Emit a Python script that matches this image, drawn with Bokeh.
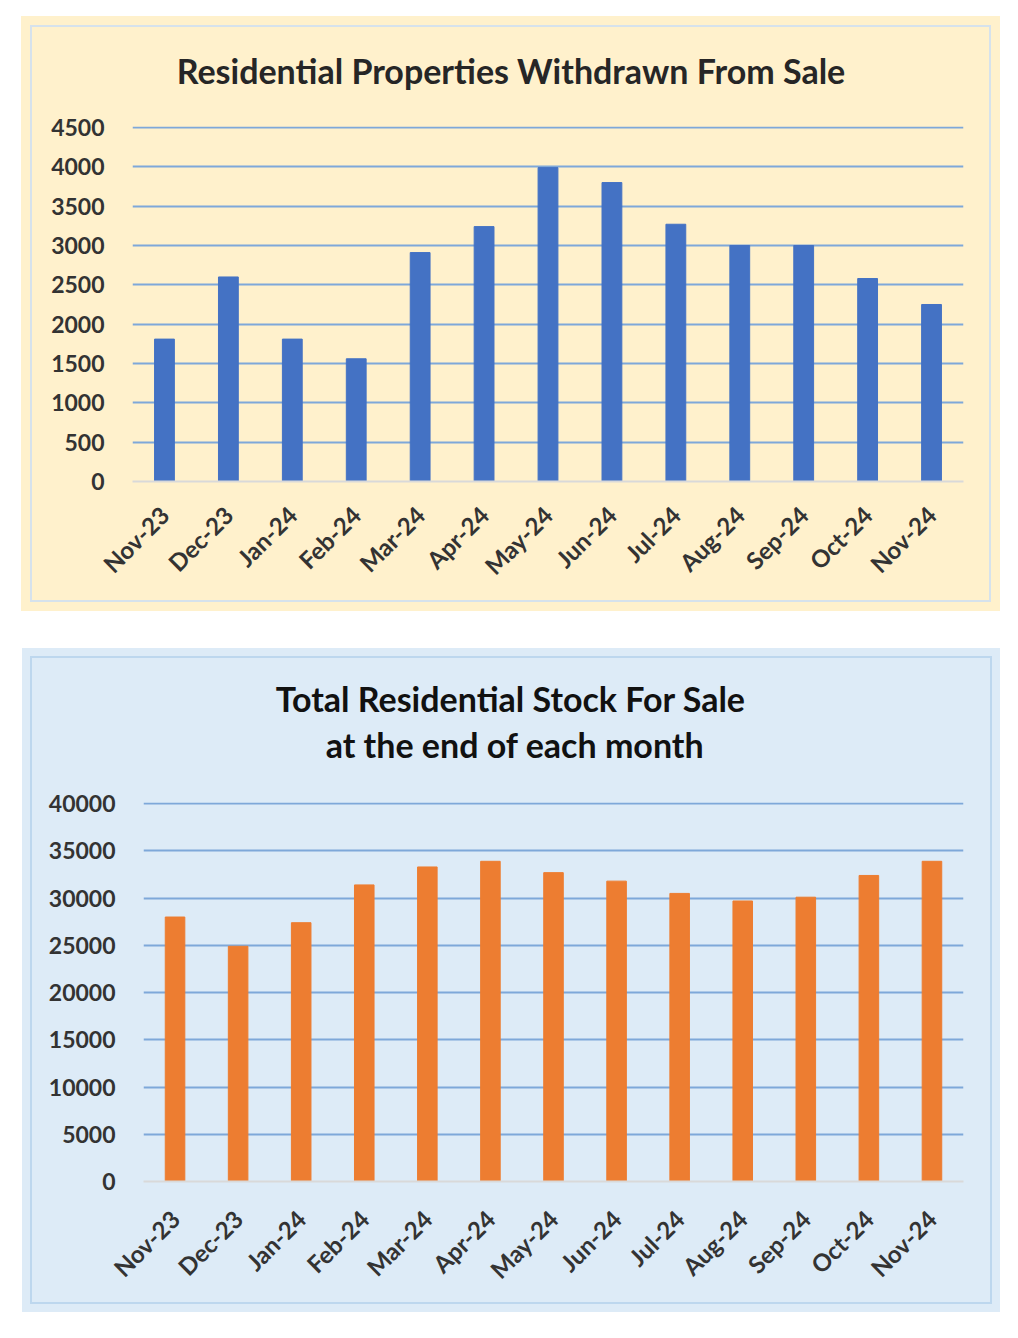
from math import pi
from bokeh.plotting import figure
from bokeh.models import FixedTicker, Spacer, Range1d
from bokeh.layouts import column, row
from bokeh.core.properties import value
from bokeh.embed import file_html
from bokeh.resources import INLINE

months = ["Nov-23", "Dec-23", "Jan-24", "Feb-24", "Mar-24", "Apr-24", "May-24",
          "Jun-24", "Jul-24", "Aug-24", "Sep-24", "Oct-24", "Nov-24"]
withdrawn = [1810, 2600, 1810, 1560, 2910, 3240, 3990, 3800, 3270, 3000, 3000, 2580, 2250]
stock = [28000, 24900, 27400, 31400, 33300, 33900, 32700, 31800, 30500, 29700, 30100, 32400, 33900]
withdrawn_ticks = [0, 500, 1000, 1500, 2000, 2500, 3000, 3500, 4000, 4500]
stock_ticks = [0, 5000, 10000, 15000, 20000, 25000, 30000, 35000, 40000]
top_title = ["Residential Properties Withdrawn From Sale"]
bottom_title = ["Total Residential Stock For Sale", "at the end of each month"]

FONT = "Lato"


def title_fig(lines, w, h, bg, color, cxs, cys):
    t = figure(width=w, height=h, x_range=Range1d(0, w), y_range=Range1d(h, 0),
               output_backend="svg", toolbar_location=None,
               x_axis_location=None, y_axis_location=None,
               background_fill_color=bg, border_fill_color=bg,
               outline_line_color=None, min_border=0)
    t.grid.visible = False
    t.text(x=cxs, y=cys, text=lines, text_align="center",
           text_baseline="middle", text_font=value(FONT), text_font_size="34px",
           text_font_style="bold", text_color=color)
    return t


def chart_fig(values, ticks, bar_color, bg, w, h, left, right, top, bottom, xstand):
    step = ticks[1] - ticks[0]
    p = figure(x_range=months, y_range=(ticks[0], ticks[-1] + step / 40),
               width=w, height=h,
               output_backend="svg", toolbar_location=None,
               background_fill_color=bg, border_fill_color=bg,
               outline_line_color=None,
               min_border_left=left, min_border_right=right,
               min_border_top=top, min_border_bottom=bottom)
    p.vbar(x=months, top=values, width=0.31, color=bar_color, line_color=bar_color)

    p.yaxis.ticker = FixedTicker(ticks=ticks)
    p.ygrid.ticker = FixedTicker(ticks=ticks[1:])
    p.ygrid.grid_line_color = "#7EA8D9"
    p.ygrid.grid_line_width = 2
    p.xgrid.grid_line_color = None

    p.yaxis.axis_line_color = None
    p.yaxis.major_tick_line_color = None
    p.yaxis.minor_tick_line_color = None
    p.yaxis.major_tick_out = 0
    p.yaxis.major_label_standoff = 28
    p.yaxis.major_label_text_font = FONT
    p.yaxis.major_label_text_font_style = "bold"
    p.yaxis.major_label_text_font_size = "23px"
    p.yaxis.major_label_text_color = "#333333"

    p.xaxis.axis_line_color = "#D9D9D9"
    p.xaxis.axis_line_width = 2
    p.xaxis.major_tick_line_color = None
    p.xaxis.major_tick_out = 0
    p.xaxis.major_label_standoff = xstand
    p.xaxis.major_label_orientation = pi / 4
    p.xaxis.major_label_text_font = FONT
    p.xaxis.major_label_text_font_style = "bold"
    p.xaxis.major_label_text_font_size = "24px"
    p.xaxis.major_label_text_color = "#333333"
    return p


def panel(tfig, cfig, bg, border, pad):
    inner = column(tfig, cfig, spacing=0,
                   styles={"border": "2px solid " + border, "background-color": bg})
    return column(inner, styles={"background-color": bg, "padding": pad})


TOP_BG = "#FFF1CC"
BOT_BG = "#DDEBF7"

t1 = title_fig(top_title, 957, 84, TOP_BG, "#262626", [436], [43])
c1 = chart_fig(withdrawn, withdrawn_ticks, "#4472C4", TOP_BG, 957, 489,
               100, 26, 15, 119, 29)
t2 = title_fig(bottom_title, 958, 128, BOT_BG, "#111111", [429, 434], [40, 86])
c2 = chart_fig(stock, stock_ticks, "#ED7D31", BOT_BG, 958, 516,
               111, 27, 16, 121, 33)

p1 = panel(t1, c1, TOP_BG, "#D6E2EC", "9px")
p2 = panel(t2, c2, BOT_BG, "#BDD7EE", "8px")

layout = column(Spacer(height=16),
                row(Spacer(width=21), p1),
                Spacer(height=37),
                row(Spacer(width=22), p2))
open("out.html", "w").write(file_html(layout, INLINE))
